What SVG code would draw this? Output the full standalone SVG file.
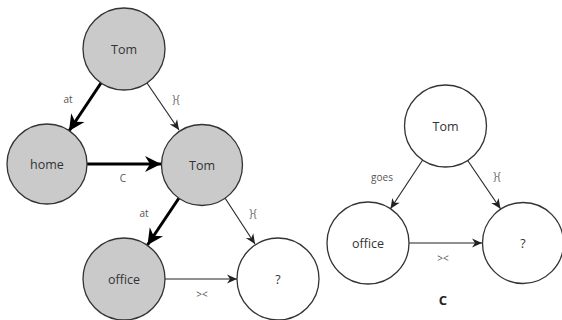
<svg xmlns="http://www.w3.org/2000/svg" width="562" height="320" viewBox="0 0 562 320">
<style>
.node{stroke:#333;stroke-width:1.3}
.g{fill:#cacaca}
.w{fill:#fff}
.nt{font-family:"Open Sans",sans-serif;font-size:12.5px;fill:#333;text-anchor:middle;dominant-baseline:central}
.lb{font-family:"Open Sans",sans-serif;font-size:10px;fill:#555;text-anchor:middle;dominant-baseline:central}
.thick{stroke:#000;stroke-width:3;fill:none}
.thin{stroke:#222;stroke-width:1.1;fill:none}
</style>
<defs>
<marker id="big" markerUnits="userSpaceOnUse" viewBox="-17 -9 18 18" refX="0" refY="0" markerWidth="18" markerHeight="18" orient="auto">
<path d="M0,0 L-16,-8 L-11,0 L-16,8 Z" fill="#000"/>
</marker>
<marker id="small" markerUnits="userSpaceOnUse" viewBox="-11 -5 12 10" refX="0" refY="0" markerWidth="12" markerHeight="10" orient="auto">
<path d="M0,0 L-10,-4.5 L-7,0 L-10,4.5 Z" fill="#222"/>
</marker>
</defs>
<g id="connectors">
<line class="thick" x1="101" y1="83" x2="69" y2="131" marker-end="url(#big)"/>
<line class="thin" x1="147" y1="83" x2="179" y2="130" marker-end="url(#small)"/>
<line class="thick" x1="87" y1="164" x2="161" y2="164" marker-end="url(#big)"/>
<line class="thick" x1="179" y1="198" x2="147.5" y2="245" marker-end="url(#big)"/>
<line class="thin" x1="225" y1="198" x2="255" y2="244" marker-end="url(#small)"/>
<line class="thin" x1="165" y1="279" x2="237" y2="279" marker-end="url(#small)"/>
<line class="thin" x1="422.5" y1="160.3" x2="390.5" y2="208.7" marker-end="url(#small)"/>
<line class="thin" x1="467.5" y1="160.3" x2="500.5" y2="208.7" marker-end="url(#small)"/>
<line class="thin" x1="409" y1="243" x2="482" y2="243" marker-end="url(#small)"/>
<text class="lb" x="68" y="99">at</text>
<text class="lb" x="176" y="99">}{</text>
<text class="lb" x="123" y="178">C</text>
<text class="lb" x="144" y="213">at</text>
<text class="lb" x="253" y="213">}{</text>
<text class="lb" x="202" y="294">&gt;&lt;</text>
<text class="lb" x="382" y="177">goes</text>
<text class="lb" x="497" y="176">}{</text>
<text class="lb" x="443" y="258">&gt;&lt;</text>
</g>
<g id="tom1"><circle class="node g" cx="124" cy="49" r="41"/><text class="nt" x="124" y="49">Tom</text></g>
<g id="home"><circle class="node g" cx="47" cy="164" r="40"/><text class="nt" x="47" y="164">home</text></g>
<g id="tom2"><circle class="node g" cx="202" cy="165" r="40.5"/><text class="nt" x="202" y="165">Tom</text></g>
<g id="office1"><circle class="node g" cx="124" cy="279" r="41"/><text class="nt" x="124" y="279">office</text></g>
<g id="q1"><circle class="node w" cx="278" cy="279" r="41"/><text class="nt" x="278" y="279">?</text></g>
<g id="tom3"><circle class="node w" cx="445.5" cy="126" r="41"/><text class="nt" x="445.5" y="126">Tom</text></g>
<g id="office2"><circle class="node w" cx="368" cy="243" r="41"/><text class="nt" x="368" y="243">office</text></g>
<g id="q2"><circle class="node w" cx="523" cy="243" r="40.5"/><text class="nt" x="523" y="243">?</text></g>
<text x="443" y="300" font-family="Open Sans, sans-serif" font-size="13" font-weight="bold" fill="#222" text-anchor="middle" dominant-baseline="central">C</text>
</svg>
